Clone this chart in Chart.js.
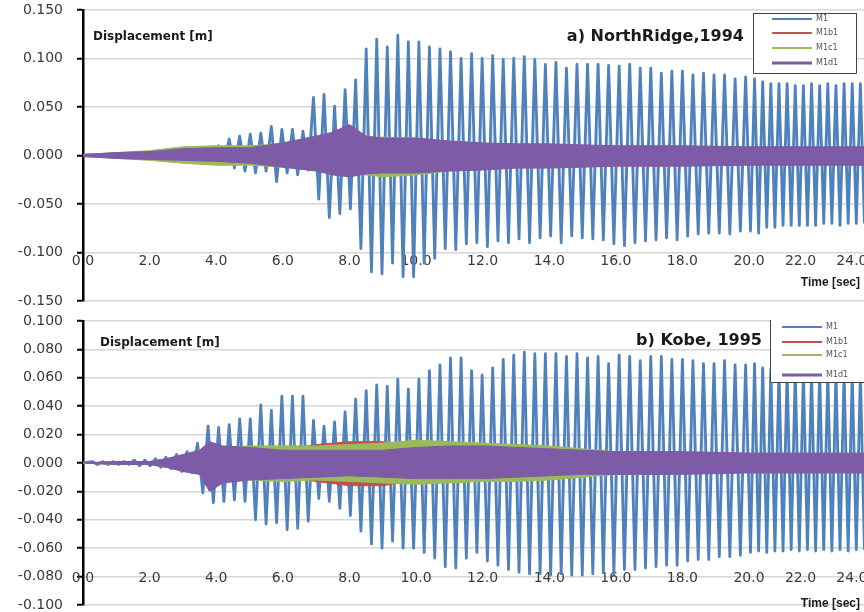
<!DOCTYPE html>
<html>
<head>
<meta charset="utf-8">
<script src="https://cdn.jsdelivr.net/npm/chart.js@4.4.1/dist/chart.umd.min.js"></script>
<style>
  html, body { margin: 0; padding: 0; background: #fff; }
  .panel { width: 864px; height: 306px; }
</style>
</head>
<body>
<div class="panel"><canvas id="northridge" width="864" height="306"></canvas></div>
<div class="panel"><canvas id="kobe" width="864" height="306"></canvas></div>
<script>
const seriesNames = ['M1', 'M1b1', 'M1c1', 'M1d1'];
const seriesColors = ['#4f81bd', '#c0504d', '#9bbb59', '#7d5ba6'];

const timeTicks = [0, 2, 4, 6, 8, 10, 12, 14, 16, 18, 20, 22, 24];
const nrDispTicks = [-0.15, -0.1, -0.05, 0, 0.05, 0.1, 0.15];
const kbDispTicks = [-0.1, -0.08, -0.06, -0.04, -0.02, 0, 0.02, 0.04, 0.06, 0.08, 0.1];

// M1 swings once every ~0.3165 s: one positive and one negative peak per cycle
const cycleStart = 0.275;
const halfCycle = 0.15825;

const nrM1Up = [
  0.001, 0.001, 0.002, 0.002, 0.003, 0.003, 0.004, 0.004, 0.005, 0.006,
  0.007, 0.008, 0.010, 0.017, 0.020, 0.022, 0.023, 0.030, 0.027, 0.027,
  0.025, 0.060, 0.063, 0.051, 0.068, 0.078, 0.110, 0.120, 0.112, 0.124,
  0.117, 0.117, 0.112, 0.110, 0.107, 0.100, 0.105, 0.100, 0.103, 0.099,
  0.100, 0.102, 0.099, 0.094, 0.096, 0.090, 0.094, 0.094, 0.094, 0.093,
  0.092, 0.094, 0.090, 0.090, 0.085, 0.087, 0.087, 0.083, 0.085, 0.083,
  0.083, 0.079, 0.081, 0.079, 0.076, 0.074, 0.074, 0.074, 0.072, 0.072,
  0.074, 0.072, 0.074, 0.072, 0.074, 0.074, 0.074
];
const nrM1Down = [
  -0.001, -0.001, -0.002, -0.002, -0.003, -0.003, -0.004, -0.004, -0.005, -0.005,
  -0.006, -0.007, -0.009, -0.013, -0.016, -0.018, -0.016, -0.027, -0.018, -0.020,
  -0.015, -0.045, -0.064, -0.060, -0.055, -0.096, -0.120, -0.122, -0.111, -0.125,
  -0.125, -0.111, -0.106, -0.096, -0.097, -0.091, -0.090, -0.094, -0.088, -0.090,
  -0.086, -0.090, -0.085, -0.083, -0.090, -0.083, -0.085, -0.086, -0.087, -0.091,
  -0.093, -0.090, -0.088, -0.087, -0.085, -0.087, -0.083, -0.081, -0.080, -0.080,
  -0.081, -0.078, -0.078, -0.080, -0.074, -0.074, -0.072, -0.072, -0.072, -0.072,
  -0.072, -0.070, -0.070, -0.072, -0.070, -0.070, -0.070
];

const kbM1Up = [
  0.001, 0.001, 0.001, 0.001, 0.002, 0.002, 0.003, 0.004, 0.006, 0.008,
  0.014, 0.026, 0.025, 0.027, 0.031, 0.031, 0.041, 0.037, 0.047, 0.047,
  0.047, 0.030, 0.026, 0.029, 0.036, 0.045, 0.051, 0.055, 0.054, 0.059,
  0.052, 0.059, 0.065, 0.069, 0.074, 0.074, 0.065, 0.062, 0.067, 0.073,
  0.076, 0.078, 0.077, 0.077, 0.077, 0.075, 0.077, 0.074, 0.075, 0.070,
  0.076, 0.075, 0.072, 0.075, 0.075, 0.073, 0.073, 0.072, 0.070, 0.070,
  0.072, 0.069, 0.069, 0.070, 0.067, 0.066, 0.066, 0.065, 0.065, 0.064,
  0.064, 0.064, 0.064, 0.063, 0.063, 0.063, 0.063
];
const kbM1Down = [
  -0.001, -0.001, -0.001, -0.001, -0.002, -0.002, -0.003, -0.004, -0.006, -0.007,
  -0.021, -0.028, -0.027, -0.026, -0.027, -0.040, -0.043, -0.042, -0.047, -0.046,
  -0.041, -0.025, -0.027, -0.032, -0.037, -0.048, -0.057, -0.060, -0.055, -0.060,
  -0.060, -0.063, -0.067, -0.073, -0.074, -0.067, -0.063, -0.069, -0.072, -0.075,
  -0.077, -0.078, -0.078, -0.079, -0.078, -0.079, -0.079, -0.078, -0.077, -0.078,
  -0.075, -0.075, -0.074, -0.073, -0.072, -0.072, -0.069, -0.068, -0.068, -0.066,
  -0.066, -0.065, -0.063, -0.062, -0.063, -0.062, -0.062, -0.061, -0.062, -0.061,
  -0.062, -0.061, -0.062, -0.061, -0.062, -0.061, -0.061
];

// the other three models vibrate too fast to resolve: keep their upper / lower envelope
const nrEnvTime = [0, 1, 2, 3, 4, 5, 6, 7, 7.5, 8, 8.5, 9, 10, 11, 12, 13, 14, 15, 16, 18, 20, 22, 24.5];
const nrM1b1Up = [0.001, 0.002, 0.004, 0.006, 0.007, 0.008, 0.011, 0.015, 0.018, 0.020, 0.016, 0.016, 0.015, 0.013, 0.011, 0.010, 0.010, 0.009, 0.009, 0.008, 0.008, 0.008, 0.008];
const nrM1b1Down = [-0.001, -0.002, -0.004, -0.005, -0.006, -0.008, -0.011, -0.014, -0.017, -0.019, -0.017, -0.017, -0.016, -0.014, -0.012, -0.011, -0.011, -0.010, -0.010, -0.009, -0.009, -0.009, -0.009];
const nrM1c1Up = [0.001, 0.003, 0.005, 0.009, 0.010, 0.010, 0.012, 0.016, 0.020, 0.022, 0.018, 0.019, 0.018, 0.014, 0.012, 0.010, 0.010, 0.009, 0.009, 0.008, 0.008, 0.008, 0.008];
const nrM1c1Down = [-0.001, -0.003, -0.005, -0.008, -0.010, -0.010, -0.012, -0.015, -0.018, -0.020, -0.020, -0.022, -0.020, -0.016, -0.013, -0.011, -0.010, -0.010, -0.009, -0.009, -0.008, -0.008, -0.008];
const nrM1d1Up = [0.001, 0.003, 0.004, 0.007, 0.008, 0.008, 0.013, 0.020, 0.024, 0.032, 0.020, 0.018, 0.018, 0.015, 0.013, 0.012, 0.012, 0.011, 0.010, 0.010, 0.009, 0.009, 0.009];
const nrM1d1Down = [-0.001, -0.003, -0.004, -0.005, -0.006, -0.008, -0.012, -0.016, -0.020, -0.022, -0.019, -0.018, -0.018, -0.016, -0.015, -0.013, -0.013, -0.012, -0.011, -0.011, -0.010, -0.010, -0.010];

const kbEnvTime = [0, 1, 2, 2.5, 3, 3.5, 3.8, 4.2, 5, 6, 7, 8, 9, 10, 11, 12, 13, 14, 15, 16, 18, 20, 22, 24.5];
const kbM1b1Up = [0.000, 0.001, 0.001, 0.003, 0.005, 0.008, 0.012, 0.010, 0.010, 0.009, 0.013, 0.015, 0.015, 0.012, 0.011, 0.010, 0.009, 0.008, 0.008, 0.007, 0.006, 0.006, 0.006, 0.006];
const kbM1b1Down = [0.000, -0.001, -0.001, -0.003, -0.005, -0.008, -0.016, -0.012, -0.010, -0.010, -0.013, -0.016, -0.016, -0.012, -0.010, -0.010, -0.009, -0.008, -0.008, -0.007, -0.006, -0.006, -0.006, -0.006];
const kbM1c1Up = [0.000, 0.001, 0.001, 0.003, 0.005, 0.008, 0.013, 0.011, 0.012, 0.012, 0.012, 0.013, 0.014, 0.016, 0.015, 0.014, 0.013, 0.012, 0.010, 0.008, 0.007, 0.006, 0.006, 0.006];
const kbM1c1Down = [0.000, -0.001, -0.001, -0.003, -0.005, -0.008, -0.016, -0.012, -0.012, -0.013, -0.012, -0.013, -0.014, -0.015, -0.014, -0.013, -0.013, -0.012, -0.010, -0.008, -0.007, -0.006, -0.006, -0.006];
const kbM1d1Up = [0.000, 0.001, 0.001, 0.003, 0.006, 0.009, 0.015, 0.012, 0.011, 0.009, 0.009, 0.009, 0.009, 0.011, 0.012, 0.012, 0.011, 0.010, 0.009, 0.008, 0.008, 0.007, 0.007, 0.007];
const kbM1d1Down = [0.000, -0.001, -0.001, -0.003, -0.006, -0.008, -0.020, -0.014, -0.012, -0.011, -0.010, -0.009, -0.010, -0.011, -0.011, -0.011, -0.010, -0.009, -0.008, -0.008, -0.008, -0.007, -0.007, -0.007];

// time axis of the original is squeezed after 20 s
class SplitTimeScale extends Chart.LinearScale {
  getPixelForValue(value) {
    if (value === null) return NaN;
    const brk = this.options.breakAt, f = this.options.breakFrac;
    let d;
    if (value <= brk) d = (value - this.min) / (brk - this.min) * f;
    else d = f + (value - brk) / (this.max - brk) * (1 - f);
    return this.getPixelForDecimal(d);
  }
  getValueForPixel(pixel) {
    const brk = this.options.breakAt, f = this.options.breakFrac;
    const d = this.getDecimalForPixel(pixel);
    if (d <= f) return this.min + d / f * (brk - this.min);
    return brk + (d - f) / (1 - f) * (this.max - brk);
  }
}
SplitTimeScale.id = 'splitTime';
SplitTimeScale.defaults = Chart.LinearScale.defaults;
Chart.register(SplitTimeScale);

function zigzag(up, down) {
  const pts = [{ x: 0, y: 0 }];
  up.forEach((u, k) => {
    const t = cycleStart + 2 * k * halfCycle;
    pts.push({ x: t, y: u }, { x: t + halfCycle, y: down[k] });
  });
  return pts;
}

function envelope(times, vals) {
  return times.map((t, i) => ({ x: t, y: vals[i] }));
}

function panelDatasets(m1Up, m1Down, envTime, bands) {
  const sets = [{
    label: seriesNames[0],
    data: zigzag(m1Up, m1Down),
    borderColor: seriesColors[0],
    backgroundColor: 'rgba(79,129,189,0.22)',
    borderWidth: 2.8,
    fill: 'origin',
    order: 4
  }];
  bands.forEach(([up, down], i) => {
    const c = seriesColors[i + 1];
    sets.push({ label: seriesNames[i + 1], data: envelope(envTime, up), borderColor: c, backgroundColor: c, borderWidth: 1, fill: '+1', order: 3 - i });
    sets.push({ label: seriesNames[i + 1] + ' low', data: envelope(envTime, down), borderColor: c, borderWidth: 1, fill: false, order: 3 - i });
  });
  return sets;
}

const panelText = {
  id: 'panelText',
  afterDraw(chart, args, o) {
    const ctx = chart.ctx;
    ctx.save();
    ctx.fillStyle = '#1a1a1a';
    ctx.textBaseline = 'middle';
    ctx.textAlign = 'left';
    ctx.font = 'bold 12px "DejaVu Sans"';
    ctx.fillText('Displacement [m]', o.unitX, o.unitY);
    ctx.textAlign = 'right';
    ctx.font = 'bold 16px "DejaVu Sans"';
    ctx.fillText(o.title, o.titleX, o.titleY);
    ctx.font = 'bold 12px "Liberation Sans"';
    ctx.fillText('Time [sec]', 860, o.timeY);
    ctx.restore();
  }
};

const boxLegend = {
  id: 'boxLegend',
  afterDatasetsDraw(chart, args, o) {
    const ctx = chart.ctx;
    ctx.save();
    ctx.fillStyle = '#fff';
    ctx.fillRect(o.x, o.y, o.w, o.h);
    ctx.strokeStyle = '#444';
    ctx.lineWidth = 1;
    ctx.beginPath();
    if (o.topBorder) {
      ctx.moveTo(o.x + 0.5, o.y + 0.5);
      ctx.lineTo(o.x + o.w - 0.5, o.y + 0.5);
    }
    ctx.moveTo(o.x + 0.5, o.y);
    ctx.lineTo(o.x + 0.5, o.y + o.h - 0.5);
    ctx.lineTo(o.x + o.w - 0.5, o.y + o.h - 0.5);
    ctx.lineTo(o.x + o.w - 0.5, o.y);
    ctx.stroke();
    ctx.font = '8px "DejaVu Sans"';
    ctx.textBaseline = 'middle';
    ctx.textAlign = 'left';
    seriesNames.forEach((name, i) => {
      const y = o.rows[i];
      ctx.strokeStyle = seriesColors[i];
      ctx.lineWidth = i === 3 ? 3 : 2;
      ctx.beginPath();
      ctx.moveTo(o.lineX, y);
      ctx.lineTo(o.lineX + 40, y);
      ctx.stroke();
      ctx.fillStyle = '#555';
      ctx.fillText(name, o.lineX + 44, y);
    });
    ctx.restore();
  }
};

const tickFont = { family: 'DejaVu Sans', size: 14 };

function makeChart(id, cfg) {
  return new Chart(document.getElementById(id), {
    type: 'line',
    data: { datasets: panelDatasets(cfg.m1Up, cfg.m1Down, cfg.envTime, cfg.bands) },
    options: {
      responsive: false,
      animation: false,
      events: [],
      layout: { padding: cfg.padding },
      elements: {
        point: { radius: 0 },
        line: { borderJoinStyle: 'round', tension: 0 }
      },
      plugins: {
        legend: { display: false },
        tooltip: { enabled: false },
        panelText: cfg.text,
        boxLegend: cfg.legend
      },
      scales: {
        x: {
          type: 'splitTime',
          min: 0,
          max: 24.47,
          breakAt: 20,
          breakFrac: 0.8528,
          position: { y: cfg.xCross },
          afterBuildTicks: s => { s.ticks = timeTicks.map(v => ({ value: v })); },
          afterFit: s => { s.height = 0; s.paddingLeft = 0; s.paddingRight = 0; },
          grid: { display: false, drawTicks: false },
          border: { display: false },
          ticks: {
            autoSkip: false, maxRotation: 0, padding: 0,
            color: '#3a3a3a', font: tickFont,
            callback: v => v.toFixed(1)
          }
        },
        y: {
          min: cfg.yTicks[0],
          max: cfg.yTicks[cfg.yTicks.length - 1],
          afterBuildTicks: s => { s.ticks = cfg.yTicks.map(v => ({ value: v })); },
          afterFit: s => { s.width = 83; s.paddingTop = 0; s.paddingBottom = 0; },
          grid: { color: '#d6d6d6', lineWidth: 1.5, tickColor: '#000', tickLength: 6, tickWidth: 2 },
          border: { display: true, color: '#000', width: 2.5 },
          ticks: {
            padding: 14, color: '#3a3a3a', font: tickFont,
            callback: v => v.toFixed(3)
          }
        }
      }
    },
    plugins: [panelText, boxLegend]
  });
}

makeChart('northridge', {
  m1Up: nrM1Up, m1Down: nrM1Down, envTime: nrEnvTime,
  bands: [[nrM1b1Up, nrM1b1Down], [nrM1c1Up, nrM1c1Down], [nrM1d1Up, nrM1d1Down]],
  yTicks: nrDispTicks,
  xCross: -0.1,
  padding: { top: 10, bottom: 5, left: 0, right: 0 },
  text: { title: 'a) NorthRidge,1994', titleX: 744, titleY: 37, unitX: 93, unitY: 37, timeY: 283 },
  legend: { x: 753, y: 13, w: 104, h: 61, lineX: 772, rows: [19, 33, 48, 63], topBorder: true }
});

makeChart('kobe', {
  m1Up: kbM1Up, m1Down: kbM1Down, envTime: kbEnvTime,
  bands: [[kbM1b1Up, kbM1b1Down], [kbM1c1Up, kbM1c1Down], [kbM1d1Up, kbM1d1Down]],
  yTicks: kbDispTicks,
  xCross: -0.075,
  padding: { top: 15, bottom: 7, left: 0, right: 0 },
  text: { title: 'b) Kobe, 1995', titleX: 762, titleY: 35, unitX: 100, unitY: 37, timeY: 298 },
  legend: { x: 770, y: 14, w: 100, h: 63, lineX: 782, rows: [21, 36, 49, 69], topBorder: false }
});
</script>
</body>
</html>
